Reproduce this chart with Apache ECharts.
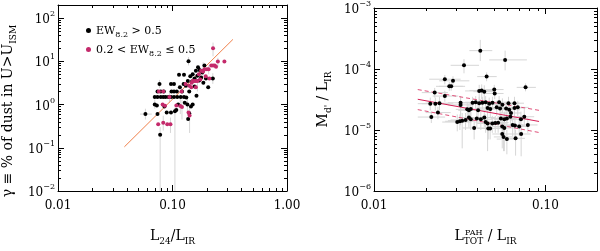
<!DOCTYPE html>
<html><head><meta charset="utf-8">
<script src="https://cdn.jsdelivr.net/npm/echarts@6/dist/echarts.min.js"></script>
<style>html,body{margin:0;padding:0;background:#fff}#c{width:600px;height:251px}</style>
</head><body><div id="c"></div>
<script>
// ---------- tick labels ----------
const leftXTickVals = [0.01, 0.1, 1];
const leftXTickLabels = ['0.01', '0.10', '1.00'];
const leftYTickVals = [0.01, 0.1, 1, 10, 100];
const leftYTickExp = ['\u22122', '\u22121', '0', '1', '2'];
const rightXTickVals = [0.01, 0.1];
const rightXTickLabels = ['0.01', '0.10'];
const rightYTickVals = [1e-6, 1e-5, 1e-4, 1e-3];
const rightYTickExp = ['\u22126', '\u22125', '\u22124', '\u22123'];

// ---------- left panel data ----------
const leftBlack = [
  [0.058,0.60],[0.070,1.00],[0.073,0.95],[0.077,3.0],[0.078,0.20],[0.074,0.60],
  [0.070,1.5],[0.074,1.5],[0.079,1.5],[0.083,1.5],[0.087,1.5],[0.092,1.5],[0.097,1.5],[0.103,1.5],[0.110,1.5],
  [0.074,2.0],[0.079,2.0],[0.084,2.0],[0.098,2.0],[0.103,2.0],[0.109,2.0],
  [0.085,0.90],[0.089,0.65],[0.097,0.65],[0.105,0.70],[0.108,0.75],
  [0.097,3.0],[0.103,3.0],[0.116,2.5],[0.121,2.0],[0.126,1.5],[0.118,1.5],[0.125,3.0],[0.131,2.7],
  [0.114,4.9],[0.126,4.9],[0.143,4.5],[0.138,10.0],[0.150,5.0],[0.156,4.0],[0.165,4.6],[0.171,3.6],
  [0.178,4.2],[0.186,3.2],[0.148,3.4],[0.160,6.0],[0.172,6.3],[0.167,7.3],[0.196,4.0],[0.205,2.5],
  [0.225,4.0],[0.135,1.0],[0.140,0.63],[0.137,0.46],[0.145,0.90],[0.132,1.46],[0.140,2.0],[0.156,2.6],
  [0.136,3.5],[0.182,5.5],[0.190,8.0],[0.150,1.0],[0.162,1.6],[0.128,1.1],[0.112,1.0]
];
const leftMagenta = [
  [0.226,20.0],[0.249,9.9],[0.284,9.9],[0.218,8.0],[0.226,8.0],[0.234,8.0],[0.240,7.5],
  [0.190,6.5],[0.200,6.5],[0.207,6.5],[0.178,6.0],[0.170,5.0],[0.185,5.8],[0.195,4.5],
  [0.150,3.5],[0.155,3.5],[0.160,3.5],[0.165,3.5],[0.147,3.2],[0.140,2.7],[0.146,2.5],[0.160,2.5],
  [0.130,3.0],[0.210,4.0],[0.120,2.0],[0.083,2.0],[0.076,2.0],
  [0.075,0.35],[0.083,0.38],[0.090,0.35],[0.096,0.35],[0.082,1.0],[0.086,0.93],
  [0.108,0.95],[0.117,0.92],[0.121,0.88],[0.141,0.56],[0.138,0.65],[0.094,1.5],[0.175,3.8]
];
// vertical error bars [x, low, high]
const leftErrY = [
  [0.058,0.45,0.80],[0.078,0.01,0.30],[0.077,2.4,3.7],[0.105,0.01,0.85],[0.226,13,27],
  [0.225,3.0,5.3],[0.141,0.22,0.90],[0.096,0.22,0.50],[0.083,0.25,0.55],[0.121,0.45,1.3],
  [0.117,0.60,1.6],[0.185,4.6,9.5],[0.150,2.8,4.5],[0.165,2.0,3.2],[0.207,5.0,8.0],
  [0.094,1.1,2.0],[0.070,0.8,1.3],[0.135,0.7,1.4],[0.249,7.5,12],[0.138,8,12.5]
];
// horizontal error bars [y, low, high]
const leftErrX = [[0.60,0.052,0.066]];
const leftFit = [[0.038,0.105],[0.337,32]];

// ---------- right panel data ----------
const rightPts = [
  [0.0417,2.0e-4],[0.0582,1.41e-4],[0.0335,1.15e-4],[0.0454,7.5e-5],[0.0259,6.8e-5],[0.0289,6.4e-5],
  [0.0275,5.2e-5],[0.0282,5.2e-5],[0.0766,5.0e-5],[0.0226,4.1e-5],[0.0411,4.37e-5],[0.0425,4.45e-5],
  [0.0440,4.25e-5],[0.0503,4.6e-5],[0.0506,3.97e-5],[0.0259,3.6e-5],[0.0320,2.79e-5],[0.0320,2.58e-5],
  [0.0376,2.8e-5],[0.0392,2.85e-5],[0.0411,2.75e-5],[0.0429,2.8e-5],[0.0448,2.85e-5],[0.0470,2.7e-5],
  [0.0491,2.8e-5],[0.0537,2.85e-5],[0.0561,2.6e-5],[0.0609,2.75e-5],[0.0660,2.75e-5],[0.0213,2.7e-5],
  [0.0228,2.7e-5],[0.0241,2.75e-5],[0.0216,1.63e-5],[0.0236,1.93e-5],[0.0350,2.18e-5],[0.0358,2.1e-5],
  [0.0367,2.2e-5],[0.0405,2.1e-5],[0.0460,2.3e-5],[0.0477,2.2e-5],[0.0520,2.35e-5],[0.0544,2.25e-5],
  [0.0590,2.25e-5],[0.0615,2.15e-5],[0.0660,2.3e-5],[0.0690,2.35e-5],[0.0306,1.35e-5],[0.0317,1.39e-5],
  [0.0327,1.42e-5],[0.0342,1.46e-5],[0.0358,1.6e-5],[0.0367,1.5e-5],[0.0384,1.08e-5],[0.0398,1.55e-5],
  [0.0420,1.5e-5],[0.0440,1.6e-5],[0.0448,1.35e-5],[0.0460,1.28e-5],[0.0464,1.06e-5],[0.0476,1.06e-5],
  [0.0490,1.28e-5],[0.0510,1.3e-5],[0.0530,1.32e-5],[0.0550,1.55e-5],[0.0576,1.5e-5],[0.0596,1.55e-5],
  [0.0625,1.65e-5],[0.0630,1.9e-5],[0.0644,1.21e-5],[0.0664,1.18e-5],[0.0703,1.14e-5],[0.0560,1.14e-5],
  [0.0576,1.08e-5],[0.0560,8.6e-6],[0.0570,7.7e-6],[0.0596,7.1e-6],[0.0722,8.6e-6],[0.0790,1.21e-5],
  [0.0753,1.65e-5],[0.0720,1.5e-5],[0.0670,7.3e-6]
];
// error bars per point: [xLow, xHigh, yLow, yHigh]
const rightErr = [
  [0.036,0.049,1.35e-4,3.0e-4],[0.047,0.078,0.95e-4,2.0e-4],[0.028,0.041,0.85e-4,1.45e-4],[0.040,0.052,6.3e-5,8.8e-5],
  [0.021,0.032,5.6e-5,8.0e-5],[0.024,0.036,5.3e-5,7.6e-5],[0.023,0.033,4.4e-5,6.1e-5],[0.024,0.034,4.4e-5,6.1e-5],
  [0.068,0.088,4.3e-5,5.8e-5],[0.019,0.027,3.4e-5,4.9e-5],[0.034,0.049,3.0e-5,5.5e-5],[0.036,0.050,3.2e-5,5.6e-5],
  [0.038,0.051,3.1e-5,5.4e-5],[0.044,0.057,3.8e-5,5.5e-5],[0.045,0.057,3.2e-5,4.8e-5],[0.022,0.031,2.9e-5,4.4e-5],
  [0.027,0.038,1.2e-5,3.6e-5],[0.027,0.038,1.8e-5,3.4e-5],[0.032,0.044,2.2e-5,3.5e-5],[0.034,0.045,2.2e-5,3.6e-5],
  [0.036,0.047,2.1e-5,3.5e-5],[0.037,0.049,2.2e-5,3.5e-5],[0.039,0.051,2.2e-5,3.6e-5],[0.041,0.054,2.1e-5,3.4e-5],
  [0.043,0.056,2.2e-5,3.5e-5],[0.047,0.061,2.2e-5,3.6e-5],[0.049,0.064,1.9e-5,3.3e-5],[0.053,0.070,2.1e-5,3.5e-5],
  [0.058,0.075,2.1e-5,3.5e-5],[0.018,0.025,2.1e-5,3.4e-5],[0.019,0.027,2.1e-5,3.4e-5],[0.020,0.029,2.1e-5,3.5e-5],
  [0.018,0.026,1.3e-5,2.0e-5],[0.020,0.028,1.5e-5,2.4e-5],[0.030,0.041,1.6e-5,2.8e-5],[0.031,0.041,1.5e-5,2.7e-5],
  [0.032,0.042,1.6e-5,2.8e-5],[0.035,0.047,1.5e-5,2.7e-5],[0.040,0.053,1.7e-5,2.9e-5],[0.041,0.055,1.6e-5,2.8e-5],
  [0.045,0.060,1.7e-5,3.0e-5],[0.047,0.063,1.6e-5,2.9e-5],[0.051,0.068,1.6e-5,2.9e-5],[0.053,0.071,1.5e-5,2.8e-5],
  [0.057,0.076,1.6e-5,3.0e-5],[0.060,0.080,1.7e-5,3.0e-5],[0.025,0.037,0.95e-5,1.8e-5],[0.026,0.038,1.0e-5,1.8e-5],
  [0.027,0.039,0.5e-5,1.9e-5],[0.028,0.041,1.0e-5,1.9e-5],[0.031,0.041,1.1e-5,2.1e-5],[0.032,0.042,1.0e-5,2.0e-5],
  [0.033,0.044,0.7e-5,1.5e-5],[0.034,0.046,1.1e-5,2.0e-5],[0.036,0.049,1.0e-5,2.0e-5],[0.038,0.051,1.1e-5,2.1e-5],
  [0.039,0.052,0.9e-5,1.8e-5],[0.040,0.053,0.45e-5,1.7e-5],[0.040,0.054,0.7e-5,1.4e-5],[0.041,0.055,0.7e-5,1.4e-5],
  [0.042,0.057,0.9e-5,1.7e-5],[0.044,0.059,0.9e-5,1.7e-5],[0.046,0.061,0.9e-5,1.7e-5],[0.048,0.063,1.1e-5,2.0e-5],
  [0.050,0.066,0.45e-5,2.0e-5],[0.052,0.068,1.1e-5,2.0e-5],[0.055,0.071,1.2e-5,2.1e-5],[0.055,0.072,1.4e-5,2.4e-5],
  [0.056,0.074,0.8e-5,1.6e-5],[0.058,0.076,0.8e-5,1.6e-5],[0.062,0.080,0.8e-5,1.5e-5],[0.049,0.064,0.8e-5,1.5e-5],
  [0.050,0.066,0.7e-5,1.4e-5],[0.049,0.064,0.5e-5,1.2e-5],[0.050,0.065,0.45e-5,1.1e-5],[0.052,0.068,0.4e-5,1.0e-5],
  [0.064,0.082,0.37e-5,1.2e-5],[0.070,0.090,0.9e-5,1.6e-5],[0.066,0.086,1.2e-5,2.2e-5],[0.064,0.082,1.1e-5,2.0e-5],
  [0.059,0.076,0.38e-5,1.0e-5]
];
const rightFit = [[0.018,3.19e-5],[0.0918,1.38e-5]];
const rightFitHi = [[0.018,4.6e-5],[0.0918,2.1e-5]];
const rightFitLo = [[0.018,2.16e-5],[0.0918,9.1e-6]];

// ---------- helpers ----------
const FONT = 'DejaVu Serif';
function sameLog(a, b) { return Math.abs(Math.log10(a) - Math.log10(b)) < 1e-6; }
function xFmt(vals, labels) {
  return v => { for (let i = 0; i < vals.length; i++) if (sameLog(v, vals[i])) return labels[i]; return ''; };
}
function yFmt(vals, exps) {
  return v => { for (let i = 0; i < vals.length; i++) if (sameLog(v, vals[i])) return '{b|10}{s|' + exps[i] + '}'; return ''; };
}
function minorVals(lo, hi) {
  const out = [];
  for (let e = Math.floor(Math.log10(lo)); e <= Math.ceil(Math.log10(hi)); e++)
    for (let k = 2; k <= 9; k++) { const v = k * Math.pow(10, e); if (v > lo * 1.0001 && v < hi * 0.9999) out.push(v); }
  return out;
}
const tickRich = {
  b: { fontFamily: FONT, fontSize: 12, color: '#000', lineHeight: 16, verticalAlign: 'bottom' },
  s: { fontFamily: FONT, fontSize: 8, color: '#000', lineHeight: 16, verticalAlign: 'top' }
};
const titleRich = {
  t: { fontFamily: FONT, fontSize: 14, color: '#000', lineHeight: 18, verticalAlign: 'bottom' },
  sub: { fontFamily: FONT, fontSize: 9, color: '#000', lineHeight: 16, verticalAlign: 'bottom', padding: [0, 0, -3, 0] }
};
const lineBlack = { color: '#000', width: 1 };
function axisBase(grid, min, max, pos, showLabel, fmt, rich) {
  return {
    gridIndex: grid, type: 'log', logBase: 10, min: min, max: max, position: pos,
    axisLine: { show: true, onZero: false, lineStyle: lineBlack },
    axisTick: { show: true, inside: true, length: 6, lineStyle: lineBlack },
    axisLabel: { show: showLabel, formatter: fmt, fontFamily: FONT, fontSize: 12, color: '#000', rich: rich },
    splitLine: { show: false }, minorTick: { show: false }
  };
}

// minor ticks drawn through the axis scales
function minorTickRender(params, api) {
  const cs = params.coordSys;
  const p = api.coord([api.value(0), api.value(1)]);
  const L = 3, st = { stroke: '#000', lineWidth: 1 };
  if (api.value(2) === 0) {
    const x = Math.round(p[0]) + 0.5;
    return { type: 'group', children: [
      { type: 'line', shape: { x1: x, y1: cs.y + cs.height, x2: x, y2: cs.y + cs.height - L }, style: st },
      { type: 'line', shape: { x1: x, y1: cs.y, x2: x, y2: cs.y + L }, style: st } ] };
  }
  const y = Math.round(p[1]) + 0.5;
  return { type: 'group', children: [
    { type: 'line', shape: { x1: cs.x, y1: y, x2: cs.x + L, y2: y }, style: st },
    { type: 'line', shape: { x1: cs.x + cs.width, y1: y, x2: cs.x + cs.width - L, y2: y }, style: st } ] };
}
function minorData(xlo, xhi, ylo, yhi) {
  const d = [];
  minorVals(xlo, xhi).forEach(v => d.push([v, ylo, 0]));
  minorVals(ylo, yhi).forEach(v => d.push([xlo, v, 1]));
  return d;
}
const ERR_COL = '#d6d6d6';
function errRender(params, api) {
  const st = { stroke: ERR_COL, lineWidth: 1 };
  const x = api.value(0), y = api.value(1);
  const a = api.coord([api.value(2), y]), b = api.coord([api.value(3), y]);
  const c = api.coord([x, api.value(4)]), d = api.coord([x, api.value(5)]);
  return { type: 'group', children: [
    { type: 'line', shape: { x1: a[0], y1: a[1], x2: b[0], y2: b[1] }, style: st },
    { type: 'line', shape: { x1: c[0], y1: c[1], x2: d[0], y2: d[1] }, style: st } ] };
}
function vErrRender(params, api) {
  const a = api.coord([api.value(0), api.value(1)]), b = api.coord([api.value(0), api.value(2)]);
  return { type: 'line', shape: { x1: a[0], y1: a[1], x2: b[0], y2: b[1] }, style: { stroke: ERR_COL, lineWidth: 1 } };
}
function hErrRender(params, api) {
  const a = api.coord([api.value(1), api.value(0)]), b = api.coord([api.value(2), api.value(0)]);
  return { type: 'line', shape: { x1: a[0], y1: a[1], x2: b[0], y2: b[1] }, style: { stroke: ERR_COL, lineWidth: 1 } };
}

const chart = echarts.init(document.getElementById('c'), null, { renderer: 'canvas' });
const xl = Object.assign(axisBase(0, 0.01, 1, 'bottom', true, xFmt(leftXTickVals, leftXTickLabels), null), {
  name: '{t|L}{sub|24}{t|/L}{sub|IR}', nameLocation: 'middle', nameGap: 34, nameTextStyle: { rich: titleRich }
});
xl.axisLabel.margin = 9;
const yl = Object.assign(axisBase(0, 0.01, 200, 'left', true, yFmt(leftYTickVals, leftYTickExp), tickRich), {
  name: '{t|\u03b3 \u2261 % of dust in U>U}{sub|ISM}', nameLocation: 'middle', nameGap: 43,
  nameTextStyle: { rich: titleRich, padding: [0, 26, 0, 0] }
});
yl.axisLabel.margin = 3;
const xr = Object.assign(axisBase(1, 0.01, 0.2, 'bottom', true, xFmt(rightXTickVals, rightXTickLabels), null), {
  name: '{t|L}{sub|TOT}{t| / L}{sub|IR}', nameLocation: 'middle', nameGap: 34, nameTextStyle: { rich: titleRich }
});
xr.axisLabel.margin = 9;
const yr = Object.assign(axisBase(1, 1e-6, 1e-3, 'left', true, yFmt(rightYTickVals, rightYTickExp), tickRich), {
  name: "{t|M}{sub|d'}{t| / L}{sub|IR}", nameLocation: 'middle', nameGap: 44, nameTextStyle: { rich: titleRich }
});
yr.axisLabel.margin = 3;

chart.setOption({
  animation: false,
  backgroundColor: '#fff',
  grid: [
    { left: 55, top: 5, width: 232, height: 206 },
    { left: 374, top: 5, width: 224, height: 206 }
  ],
  xAxis: [xl, axisBase(0, 0.01, 1, 'top', false, null, null), xr, axisBase(1, 0.01, 0.2, 'top', false, null, null)],
  yAxis: [yl, axisBase(0, 0.01, 200, 'right', false, null, null), yr, axisBase(1, 1e-6, 1e-3, 'right', false, null, null)],
  legend: {
    data: ['ew_high', 'ew_mid'], orient: 'vertical', left: 81, top: 21, itemGap: 6,
    icon: 'circle', itemWidth: 5, itemHeight: 5,
    formatter: n => n === 'ew_high' ? '{t|EW}{sub|8.2}{t| > 0.5}' : '{t|0.2 < EW}{sub|8.2}{t| \u2264 0.5}',
    textStyle: { rich: {
      t: { fontFamily: FONT, fontSize: 11, color: '#000', lineHeight: 13, verticalAlign: 'bottom' },
      sub: { fontFamily: FONT, fontSize: 8, color: '#000', lineHeight: 13, verticalAlign: 'bottom', padding: [0, 0, -2, 0] }
    } }
  },
  graphic: [
    { type: 'text', left: 465, top: 229, style: { text: 'PAH', font: '8px "DejaVu Serif"', fill: '#000' } }
  ],
  series: [
    { type: 'custom', name: 'ticksL', xAxisIndex: 0, yAxisIndex: 0, renderItem: minorTickRender, data: minorData(0.01, 1, 0.01, 200), silent: true, clip: false, z: 5 },
    { type: 'custom', name: 'ticksR', xAxisIndex: 2, yAxisIndex: 2, renderItem: minorTickRender, data: minorData(0.01, 0.2, 1e-6, 1e-3), silent: true, clip: false, z: 5 },
    { type: 'custom', name: 'errLy', xAxisIndex: 0, yAxisIndex: 0, renderItem: vErrRender, data: leftErrY, silent: true, z: 1 },
    { type: 'custom', name: 'errLx', xAxisIndex: 0, yAxisIndex: 0, renderItem: hErrRender, data: leftErrX, encode: { x: 1, y: 0 }, silent: true, z: 1 },
    { type: 'custom', name: 'errR', xAxisIndex: 2, yAxisIndex: 2, renderItem: errRender,
      data: rightPts.map((p, i) => [p[0], p[1]].concat(rightErr[i])), silent: true, z: 1 },
    { type: 'line', name: 'fitL', xAxisIndex: 0, yAxisIndex: 0, data: leftFit, showSymbol: false, silent: true,
      lineStyle: { color: '#f0804a', width: 1 }, z: 2 },
    { type: 'scatter', name: 'ew_high', xAxisIndex: 0, yAxisIndex: 0, data: leftBlack, symbolSize: 4, itemStyle: { color: '#000', opacity: 1 }, z: 3 },
    { type: 'scatter', name: 'ew_mid', xAxisIndex: 0, yAxisIndex: 0, data: leftMagenta, symbolSize: 4, itemStyle: { color: '#c42a6b', opacity: 1 }, z: 4 },
    { type: 'line', name: 'fitR', xAxisIndex: 2, yAxisIndex: 2, data: rightFit, showSymbol: false, silent: true,
      lineStyle: { color: '#d61e55', width: 1 }, z: 2 },
    { type: 'line', name: 'fitRhi', xAxisIndex: 2, yAxisIndex: 2, data: rightFitHi, showSymbol: false, silent: true,
      lineStyle: { color: '#e0507a', width: 1, type: [4, 3] }, z: 2 },
    { type: 'line', name: 'fitRlo', xAxisIndex: 2, yAxisIndex: 2, data: rightFitLo, showSymbol: false, silent: true,
      lineStyle: { color: '#e0507a', width: 1, type: [4, 3] }, z: 2 },
    { type: 'scatter', name: 'pts', xAxisIndex: 2, yAxisIndex: 2, data: rightPts, symbolSize: 4, itemStyle: { color: '#000', opacity: 1 }, z: 3 }
  ]
});
</script></body></html>
